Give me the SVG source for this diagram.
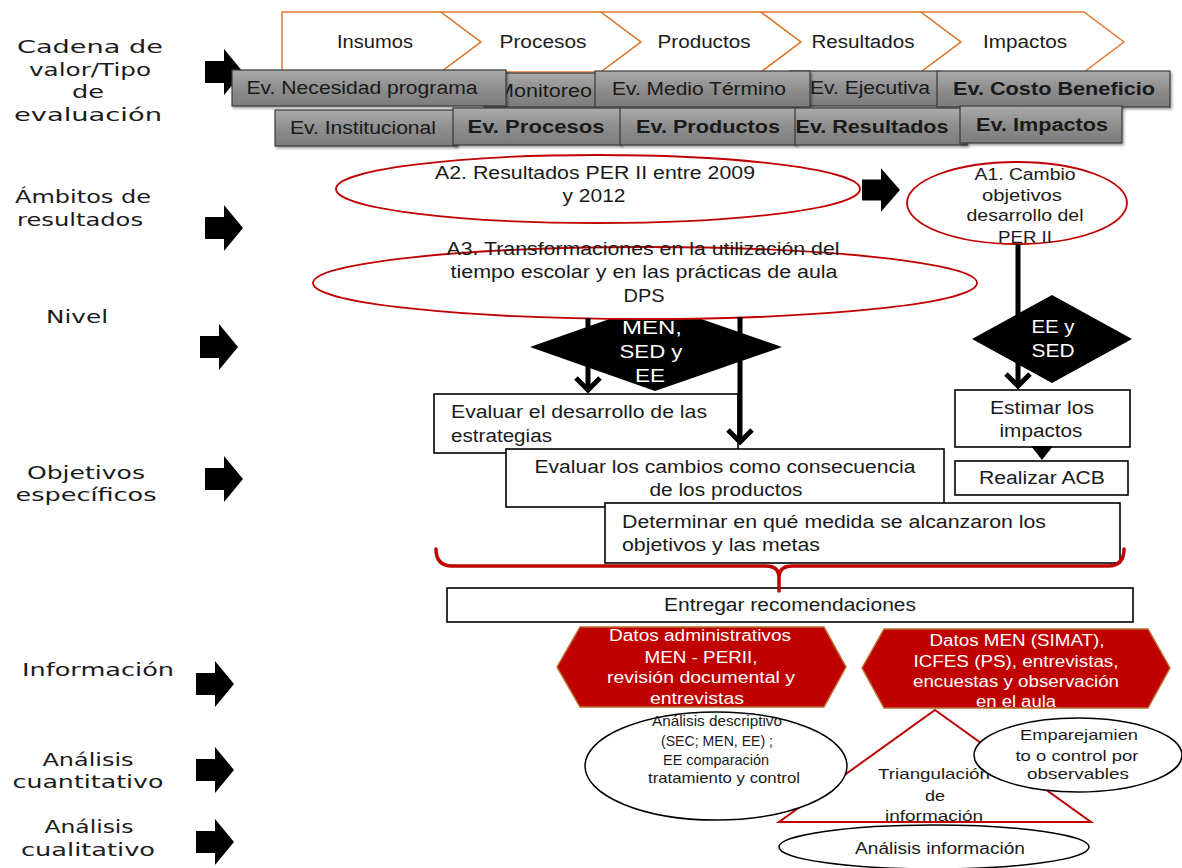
<svg xmlns="http://www.w3.org/2000/svg" width="1182" height="868" viewBox="0 0 1182 868">
  <style>
    .lbl { font-family: "DejaVu Sans", "Liberation Sans", sans-serif; font-size: 18.5px; fill: #1a1a1a; text-anchor: middle; }
    .t { font-family: "Liberation Sans", Arial, sans-serif; font-size: 18px; fill: #1a1a1a; text-anchor: middle; }
    .s16 { font-size: 16px; }
    .s15 { font-size: 15px; }
    .s19 { font-size: 19px; }
    .st { text-anchor: start; }
    .b { font-weight: bold; }
    .w { fill: #fff; }
    .chev { fill: #fff; stroke: #E2782E; stroke-width: 1.5; }
    .ev { fill: url(#gray); stroke: #3a3a3a; stroke-width: 1.2; filter: url(#sh); }
    .oval-r { fill: #fff; stroke: #C00000; stroke-width: 1.8; }
    .oval-k { fill: #fff; stroke: #000; stroke-width: 1.5; }
    .box { fill: #fff; stroke: #000; stroke-width: 1.6; }
    .hex { fill: #C00000; stroke: #B8702E; stroke-width: 1.5; }
    .blk { fill: #000; }
    .tri { fill: #fff; stroke: #C00000; stroke-width: 2; }
    .conn { stroke: #000; stroke-width: 5; fill: none; marker-end: url(#vhead); }
    .brace { stroke: #C00000; stroke-width: 3.5; fill: none; stroke-linecap: round; }
  </style>
  <defs>
    <linearGradient id="gray" x1="0" y1="0" x2="0" y2="1">
      <stop offset="0" stop-color="#ababab"/>
      <stop offset="0.5" stop-color="#8e8e8e"/>
      <stop offset="1" stop-color="#7c7c7c"/>
    </linearGradient>
    <filter id="sh" x="-5%" y="-20%" width="115%" height="150%">
      <feDropShadow dx="1.5" dy="2" stdDeviation="1.2" flood-color="#000" flood-opacity="0.35"/>
    </filter>
    <marker id="vhead" viewBox="-5 -16 22 32" refX="12" refY="0" markerWidth="22" markerHeight="32" markerUnits="userSpaceOnUse" orient="auto" overflow="visible">
      <path d="M0,-12 L12,0 L0,12" fill="none" stroke="#000" stroke-width="5"/>
    </marker>
    <path id="blockArrow" d="M0,-11 H19 V-23 L38,0 L19,23 V11 H0 Z"/>
  </defs>

  <rect width="1182" height="868" fill="#fff"/>

  <!-- row labels with their block arrows -->
  <g id="row-labels">
    <text class="lbl" x="90" y="53" textLength="146" lengthAdjust="spacingAndGlyphs">Cadena de</text>
    <text class="lbl" x="90" y="76" textLength="122" lengthAdjust="spacingAndGlyphs">valor/Tipo</text>
    <text class="lbl" x="88" y="98" textLength="32" lengthAdjust="spacingAndGlyphs">de</text>
    <text class="lbl" x="88" y="121" textLength="148" lengthAdjust="spacingAndGlyphs">evaluación</text>
    <text class="lbl" x="83" y="203" textLength="136" lengthAdjust="spacingAndGlyphs">Ámbitos de</text>
    <text class="lbl" x="80" y="226" textLength="126" lengthAdjust="spacingAndGlyphs">resultados</text>
    <text class="lbl" x="77" y="323" textLength="62" lengthAdjust="spacingAndGlyphs">Nivel</text>
    <text class="lbl" x="86" y="479" textLength="118" lengthAdjust="spacingAndGlyphs">Objetivos</text>
    <text class="lbl" x="86" y="501" textLength="141" lengthAdjust="spacingAndGlyphs">específicos</text>
    <text class="lbl" x="98" y="676" textLength="152" lengthAdjust="spacingAndGlyphs">Información</text>
    <text class="lbl" x="88" y="766" textLength="91" lengthAdjust="spacingAndGlyphs">Análisis</text>
    <text class="lbl" x="88" y="788" textLength="151" lengthAdjust="spacingAndGlyphs">cuantitativo</text>
    <text class="lbl" x="89" y="833" textLength="89" lengthAdjust="spacingAndGlyphs">Análisis</text>
    <text class="lbl" x="88" y="856" textLength="134" lengthAdjust="spacingAndGlyphs">cualitativo</text>
  </g>
  <g id="row-arrows" class="blk">
    <use href="#blockArrow" x="205" y="72"/>
    <use href="#blockArrow" x="205" y="228"/>
    <use href="#blockArrow" x="200" y="347"/>
    <use href="#blockArrow" x="205" y="479"/>
    <use href="#blockArrow" x="196" y="684"/>
    <use href="#blockArrow" x="196" y="770"/>
    <use href="#blockArrow" x="196" y="842"/>
  </g>

  <!-- value chain -->
  <g id="chain-insumos">
    <polygon class="chev" points="282,12 441,12 481,42 441,72 282,72"/>
    <text class="t" x="375" y="48" textLength="76" lengthAdjust="spacingAndGlyphs">Insumos</text>
  </g>
  <g id="chain-procesos">
    <polygon class="chev" points="441,12 601,12 641,42 601,72 441,72 481,42"/>
    <text class="t" x="543" y="48" textLength="87" lengthAdjust="spacingAndGlyphs">Procesos</text>
  </g>
  <g id="chain-productos">
    <polygon class="chev" points="601,12 761,12 801,42 761,72 601,72 641,42"/>
    <text class="t" x="704" y="48" textLength="93" lengthAdjust="spacingAndGlyphs">Productos</text>
  </g>
  <g id="chain-resultados">
    <polygon class="chev" points="761,12 921,12 961,42 921,72 761,72 801,42"/>
    <text class="t" x="863" y="48" textLength="103" lengthAdjust="spacingAndGlyphs">Resultados</text>
  </g>
  <g id="chain-impactos">
    <polygon class="chev" points="921,12 1084,12 1124,42 1084,72 921,72 961,42"/>
    <text class="t" x="1025" y="48" textLength="84" lengthAdjust="spacingAndGlyphs">Impactos</text>
  </g>

  <!-- evaluation types -->
  <g id="ev-monitoreo">
    <rect class="ev" x="484" y="73" width="114" height="34"/>
    <text class="t" x="544" y="97" textLength="96" lengthAdjust="spacingAndGlyphs">Monitoreo</text>
  </g>
  <g id="ev-ejecutiva">
    <rect class="ev" x="790" y="71" width="150" height="35"/>
    <text class="t" x="870" y="94" textLength="120" lengthAdjust="spacingAndGlyphs">Ev. Ejecutiva</text>
  </g>
  <g id="ev-necesidad">
    <rect class="ev" x="232" y="70" width="274" height="36"/>
    <text class="t" x="362" y="94" textLength="231" lengthAdjust="spacingAndGlyphs">Ev. Necesidad programa</text>
  </g>
  <g id="ev-medio">
    <rect class="ev" x="595" y="71" width="215" height="36"/>
    <text class="t" x="699" y="95" textLength="174" lengthAdjust="spacingAndGlyphs">Ev. Medio Término</text>
  </g>
  <g id="ev-costo">
    <rect class="ev" x="937" y="71" width="233" height="36"/>
    <text class="t b" x="1054" y="95" textLength="202" lengthAdjust="spacingAndGlyphs">Ev. Costo Beneficio</text>
  </g>
  <g id="ev-institucional">
    <rect class="ev" x="275" y="110" width="182" height="36"/>
    <text class="t" x="363" y="134" textLength="146" lengthAdjust="spacingAndGlyphs">Ev. Institucional</text>
  </g>
  <g id="ev-procesos">
    <rect class="ev" x="453" y="108" width="168" height="37"/>
    <text class="t b" x="536" y="133" textLength="137" lengthAdjust="spacingAndGlyphs">Ev. Procesos</text>
  </g>
  <g id="ev-productos">
    <rect class="ev" x="620" y="108" width="176" height="37"/>
    <text class="t b" x="708" y="133" textLength="144" lengthAdjust="spacingAndGlyphs">Ev. Productos</text>
  </g>
  <g id="ev-resultados">
    <rect class="ev" x="795" y="108" width="172" height="37"/>
    <text class="t b" x="872" y="133" textLength="153" lengthAdjust="spacingAndGlyphs">Ev. Resultados</text>
  </g>
  <g id="ev-impactos">
    <rect class="ev" x="960" y="106" width="162" height="37"/>
    <text class="t b" x="1042" y="131" textLength="132" lengthAdjust="spacingAndGlyphs">Ev. Impactos</text>
  </g>

  <!-- level diamonds -->
  <g id="nivel-men">
    <polygon class="blk" points="530,347 655,303 782,347 655,391"/>
    <text class="t s19 w" x="652" y="334" textLength="60" lengthAdjust="spacingAndGlyphs">MEN,</text>
    <text class="t s19 w" x="651" y="358" textLength="63" lengthAdjust="spacingAndGlyphs">SED y</text>
    <text class="t s19 w" x="650" y="382" textLength="30" lengthAdjust="spacingAndGlyphs">EE</text>
  </g>
  <g id="nivel-ee">
    <polygon class="blk" points="972,339 1052,295 1132,339 1052,383"/>
    <text class="t s19 w" x="1053" y="333" textLength="43" lengthAdjust="spacingAndGlyphs">EE y</text>
    <text class="t s19 w" x="1053" y="357" textLength="43" lengthAdjust="spacingAndGlyphs">SED</text>
  </g>

  <!-- results scopes -->
  <g id="ambito-a2">
    <ellipse class="oval-r" cx="598" cy="189" rx="262" ry="34"/>
    <text class="t" x="595" y="179" textLength="320" lengthAdjust="spacingAndGlyphs">A2. Resultados PER II entre 2009</text>
    <text class="t" x="594" y="202" textLength="63" lengthAdjust="spacingAndGlyphs">y 2012</text>
  </g>
  <g id="ambito-a1">
    <ellipse class="oval-r" cx="1017" cy="203" rx="110" ry="41"/>
    <text class="t s16" x="1025" y="180" textLength="101" lengthAdjust="spacingAndGlyphs">A1. Cambio</text>
    <text class="t s16" x="1022" y="201" textLength="80" lengthAdjust="spacingAndGlyphs">objetivos</text>
    <text class="t s16" x="1025" y="221" textLength="117" lengthAdjust="spacingAndGlyphs">desarrollo del</text>
    <text class="t s16" x="1025" y="243" textLength="54" lengthAdjust="spacingAndGlyphs">PER II</text>
  </g>
  <g id="ambito-a3">
    <ellipse class="oval-r" cx="645" cy="283" rx="332" ry="36"/>
    <text class="t" x="643" y="255" textLength="393" lengthAdjust="spacingAndGlyphs">A3. Transformaciones en la utilización del</text>
    <text class="t" x="644" y="278" textLength="387" lengthAdjust="spacingAndGlyphs">tiempo escolar y en las prácticas de aula</text>
    <text class="t" x="644" y="302" textLength="41" lengthAdjust="spacingAndGlyphs">DPS</text>
  </g>

  <!-- specific objectives -->
  <g id="obj-estrategias">
    <rect class="box" x="434" y="394" width="304" height="59"/>
    <text class="t st" x="451" y="418" textLength="256" lengthAdjust="spacingAndGlyphs">Evaluar el desarrollo de las</text>
    <text class="t st" x="451" y="442" textLength="101" lengthAdjust="spacingAndGlyphs">estrategias</text>
  </g>
  <g id="obj-cambios">
    <rect class="box" x="506" y="449" width="438" height="58"/>
    <text class="t" x="725" y="473" textLength="381" lengthAdjust="spacingAndGlyphs">Evaluar los cambios como consecuencia</text>
    <text class="t" x="726" y="496" textLength="153" lengthAdjust="spacingAndGlyphs">de los productos</text>
  </g>
  <g id="obj-metas">
    <rect class="box" x="605" y="503" width="515" height="60"/>
    <text class="t st" x="622" y="528" textLength="424" lengthAdjust="spacingAndGlyphs">Determinar en qué medida se alcanzaron los</text>
    <text class="t st" x="622" y="551" textLength="198" lengthAdjust="spacingAndGlyphs">objetivos y las metas</text>
  </g>
  <g id="obj-impactos">
    <rect class="box" x="955" y="390" width="175" height="57"/>
    <text class="t" x="1042" y="414" textLength="104" lengthAdjust="spacingAndGlyphs">Estimar los</text>
    <text class="t" x="1041" y="437" textLength="83" lengthAdjust="spacingAndGlyphs">impactos</text>
  </g>
  <g id="obj-acb">
    <rect class="box" x="955" y="461" width="173" height="34"/>
    <text class="t" x="1042" y="484" textLength="126" lengthAdjust="spacingAndGlyphs">Realizar ACB</text>
  </g>
  <g id="obj-recomendaciones">
    <rect class="box" x="447" y="588" width="686" height="34"/>
    <text class="t" x="790" y="611" textLength="252" lengthAdjust="spacingAndGlyphs">Entregar recomendaciones</text>
  </g>

  <!-- connectors -->
  <g id="connectors">
    <use href="#blockArrow" class="blk" transform="translate(862,190) scale(1,0.95)"/>
    <line class="conn" x1="588" y1="318" x2="588" y2="390"/>
    <line class="conn" x1="740" y1="317" x2="740" y2="442"/>
    <line class="conn" x1="1018" y1="244" x2="1018" y2="386"/>
    <polygon class="blk" points="1031,446 1053,446 1042,460"/>
    <path class="brace" d="M436,549 Q436,566 452,566 H766 Q779,566 779,578 V591 M779,578 Q779,566 792,566 H1108 Q1124,566 1124,549"/>
  </g>

  <!-- information sources -->
  <g id="info-admin">
    <polygon class="hex" points="557,667 580,627 824,627 846,667 824,707 580,707"/>
    <text class="t s16 w" x="700" y="641" textLength="182" lengthAdjust="spacingAndGlyphs">Datos administrativos</text>
    <text class="t s16 w" x="701" y="663" textLength="113" lengthAdjust="spacingAndGlyphs">MEN - PERII,</text>
    <text class="t s16 w" x="701" y="683" textLength="188" lengthAdjust="spacingAndGlyphs">revisión documental y</text>
    <text class="t s16 w" x="697" y="704" textLength="94" lengthAdjust="spacingAndGlyphs">entrevistas</text>
  </g>
  <g id="info-men">
    <polygon class="hex" points="862,668 884,629 1148,629 1170,668 1148,708 884,708"/>
    <text class="t s16 w" x="1017" y="646" textLength="175" lengthAdjust="spacingAndGlyphs">Datos MEN (SIMAT),</text>
    <text class="t s16 w" x="1016" y="667" textLength="205" lengthAdjust="spacingAndGlyphs">ICFES (PS), entrevistas,</text>
    <text class="t s16 w" x="1016" y="687" textLength="206" lengthAdjust="spacingAndGlyphs">encuestas y observación</text>
    <text class="t s16 w" x="1016" y="707" textLength="80" lengthAdjust="spacingAndGlyphs">en el aula</text>
  </g>

  <!-- analysis -->
  <g id="triangulacion">
    <polygon class="tri" points="935,710 1091,822 779,822"/>
    <text class="t s15" x="934" y="779" textLength="112" lengthAdjust="spacingAndGlyphs">Triangulación</text>
    <text class="t s15" x="935" y="801" textLength="20" lengthAdjust="spacingAndGlyphs">de</text>
    <text class="t s15" x="934" y="821" textLength="98" lengthAdjust="spacingAndGlyphs">información</text>
  </g>
  <g id="analisis-descriptivo">
    <ellipse class="oval-k" cx="716" cy="766" rx="131" ry="54"/>
    <text class="t s15" x="717" y="726" textLength="130" lengthAdjust="spacingAndGlyphs">Análisis descriptivo</text>
    <text class="t s15" x="717" y="746" textLength="112" lengthAdjust="spacingAndGlyphs">(SEC; MEN, EE) ;</text>
    <text class="t s15" x="716" y="765" textLength="106" lengthAdjust="spacingAndGlyphs">EE comparación</text>
    <text class="t s15" x="724" y="783" textLength="152" lengthAdjust="spacingAndGlyphs">tratamiento y control</text>
  </g>
  <g id="emparejamiento">
    <ellipse class="oval-k" cx="1078" cy="755" rx="104" ry="37"/>
    <text class="t s15" x="1079" y="740" textLength="118" lengthAdjust="spacingAndGlyphs">Emparejamien</text>
    <text class="t s15" x="1077" y="761" textLength="123" lengthAdjust="spacingAndGlyphs">to o control por</text>
    <text class="t s15" x="1078" y="779" textLength="102" lengthAdjust="spacingAndGlyphs">observables</text>
  </g>
  <g id="analisis-informacion">
    <ellipse class="oval-k" cx="934" cy="847" rx="155" ry="22"/>
    <text class="t s16" x="940" y="854" textLength="170" lengthAdjust="spacingAndGlyphs">Análisis información</text>
  </g>
</svg>
